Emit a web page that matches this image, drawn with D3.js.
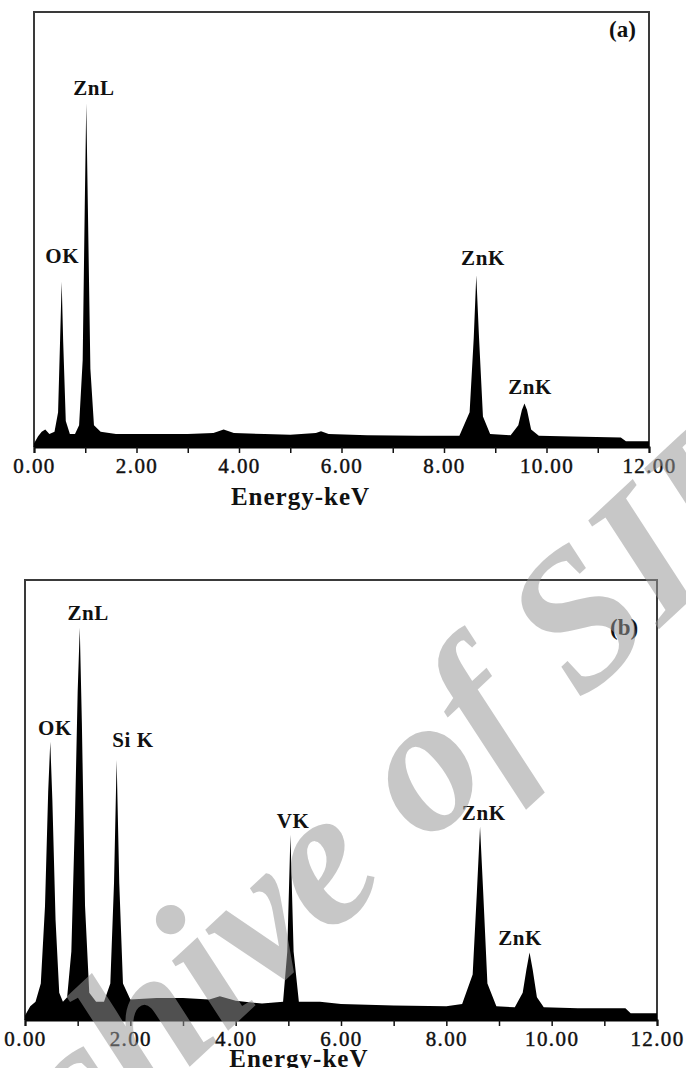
<!DOCTYPE html>
<html lang="en">
<head>
<meta charset="utf-8">
<title>EDS spectra</title>
<script src="https://d3js.org/d3.v7.min.js"></script>
<style>
  body { margin: 0; background: #fff; }
  .tick text { font-family: "Liberation Serif", serif; font-size: 21px; letter-spacing: 1.4px; fill: #111; stroke: #111; stroke-width: 0.45px; }
  .tick line { stroke: #111; stroke-width: 1.5; }
  .peak { font-family: "Liberation Serif", serif; font-size: 21px; font-weight: bold; letter-spacing: 0.6px; fill: #111; text-anchor: middle; }
  .xtitle { font-family: "Liberation Serif", serif; font-size: 25px; font-weight: bold; letter-spacing: 1px; fill: #111; text-anchor: middle; }
  .panel-tag { font-family: "Liberation Serif", serif; font-size: 23px; font-weight: bold; fill: #111; }
</style>
</head>
<body>
<script>
// spectrum (a): energy in keV, counts in arbitrary units
var energyA = [0.00, 0.08, 0.15, 0.22, 0.30, 0.40, 0.47, 0.51, 0.54, 0.57, 0.62, 0.70, 0.80, 0.88, 0.95, 0.99, 1.02, 1.05, 1.10, 1.17, 1.30,
               1.60, 2.00, 2.50, 3.00, 3.50, 3.70, 3.90, 4.50, 5.00, 5.50, 5.60, 5.75, 6.50, 7.50, 8.30, 8.50, 8.58, 8.63, 8.68, 8.76,
               8.90, 9.30, 9.45, 9.52, 9.57, 9.62, 9.70, 9.85, 10.50, 11.45, 11.55, 12.00];
var countA  = [0.8, 2.5, 3.5, 4.0, 3.0, 3.5, 8, 25, 38, 24, 6, 3, 3, 5, 20, 55, 79, 56, 18, 5, 3.5,
               3.0, 3.0, 3.0, 3.0, 3.2, 4.0, 3.2, 3.0, 2.8, 3.2, 3.6, 3.0, 2.7, 2.6, 2.6, 8, 25, 39.5, 26, 7,
               3.0, 2.7, 5, 8.5, 10, 8.5, 4, 2.6, 2.4, 2.2, 1.3, 1.3];

// spectrum (b)
var energyB = [0.00, 0.10, 0.20, 0.30, 0.38, 0.44, 0.48, 0.52, 0.58, 0.65, 0.72, 0.80, 0.88, 0.95, 1.00, 1.04, 1.08, 1.14, 1.22, 1.35,
               1.50, 1.62, 1.69, 1.74, 1.79, 1.86, 2.00, 2.50, 3.00, 3.50, 3.70, 4.00, 4.50, 4.90, 4.98, 5.04, 5.10, 5.20, 5.60,
               6.00, 7.00, 8.00, 8.30, 8.50, 8.58, 8.64, 8.70, 8.78, 8.95, 9.30, 9.45, 9.52, 9.58, 9.64, 9.72, 9.85, 10.50, 11.40, 11.50, 12.00];
var countB  = [1.0, 3, 4, 8, 25, 50, 61, 48, 22, 6, 4, 5, 15, 45, 72, 86, 65, 25, 6, 4,
               4, 8, 30, 57, 30, 8, 4.5, 4.8, 4.8, 4.5, 5.2, 4.2, 3.6, 4, 15, 40.6, 15, 4, 4,
               3.5, 3.2, 3.0, 3.5, 10, 28, 42.4, 28, 8, 3, 2.8, 6, 11, 14.8, 11, 5, 2.8, 2.6, 2.6, 1.5, 1.5];

// peak labels: text, label anchor energy, label baseline (counts)
var peakNamesA = ["OK", "ZnL", "ZnK", "ZnK"];
var peakLabelEA = [0.55, 1.17, 8.76, 9.68];
var peakLabelCA = [42.3, 80.9, 41.8, 12.2];

var peakNamesB = ["OK", "ZnL", "Si K", "VK", "ZnK", "ZnK"];
var peakLabelEB = [0.57, 1.20, 2.05, 5.09, 8.71, 9.40];
var peakLabelCB = [62.4, 87.8, 59.8, 42.1, 43.9, 16.4];

var tickValues = [0, 1, 2, 3, 4, 5, 6, 7, 8, 9, 10, 11, 12];
var tickLabels = ["0.00", "", "2.00", "", "4.00", "", "6.00", "", "8.00", "", "10.00", "", "12.00"];

var width = 686, height = 1068;

var svg = d3.select("body").append("svg")
  .attr("width", width)
  .attr("height", height);

// box.top = frame top, box.yTop = where 100 counts sits
function panel(box, energy, count, names, labE, labC, tag, tagPos, titleY) {
  var x = d3.scaleLinear().domain([0, 12]).range([box.left, box.right]);
  var y = d3.scaleLinear().domain([0, 100]).range([box.bottom, box.yTop]);

  var pts = energy.map(function(e, i) { return { e: e, c: count[i] }; });

  var g = svg.append("g");

  // frame (top, left, right)
  g.append("path")
    .attr("d", "M" + box.left + "," + box.bottom + "V" + box.top + "H" + box.right + "V" + box.bottom)
    .attr("fill", "none")
    .attr("stroke", "#3a3a3a")
    .attr("stroke-width", 2);

  // spectrum
  var area = d3.area()
    .x(function(d) { return x(d.e); })
    .y0(y(0))
    .y1(function(d) { return y(d.c); });

  g.append("path")
    .datum(pts)
    .attr("d", area)
    .attr("fill", "#000");

  // axis
  var axis = g.append("g")
    .attr("transform", "translate(0," + box.bottom + ")")
    .call(d3.axisBottom(x)
      .tickValues(tickValues)
      .tickSize(6)
      .tickPadding(3)
      .tickFormat(function(d, i) { return tickLabels[i]; }));
  axis.select(".domain").attr("stroke", "#000").attr("stroke-width", 2);
  axis.selectAll(".tick text").attr("dy", "0.8em");

  g.append("text")
    .attr("class", "xtitle")
    .attr("x", x(5.2))
    .attr("y", titleY)
    .text("Energy-keV");

  // peak labels
  g.selectAll(".peak")
    .data(names)
    .enter()
    .append("text")
    .attr("class", "peak")
    .attr("x", function(d, i) { return x(labE[i]); })
    .attr("y", function(d, i) { return y(labC[i]); })
    .text(function(d) { return d; });

  g.append("text")
    .attr("class", "panel-tag")
    .attr("x", tagPos[0])
    .attr("y", tagPos[1])
    .text(tag);
}

panel({ left: 34, right: 649, top: 12, yTop: 12, bottom: 447 },
      energyA, countA, peakNamesA, peakLabelEA, peakLabelCA, "(a)", [609, 37], 505);

panel({ left: 25, right: 657, top: 580, yTop: 564, bottom: 1020 },
      energyB, countB, peakNamesB, peakLabelEB, peakLabelCB, "(b)", [610, 635], 1067);

// watermark
svg.append("text")
  .attr("transform", "translate(375,894) rotate(-43)")
  .attr("text-anchor", "middle")
  .attr("font-family", "Liberation Serif, serif")
  .attr("font-style", "italic")
  .attr("font-weight", "bold")
  .attr("font-size", 195)
  .attr("fill", "#979797")
  .attr("opacity", 0.53)
  .text("Archive of SID");
</script>
</body>
</html>
